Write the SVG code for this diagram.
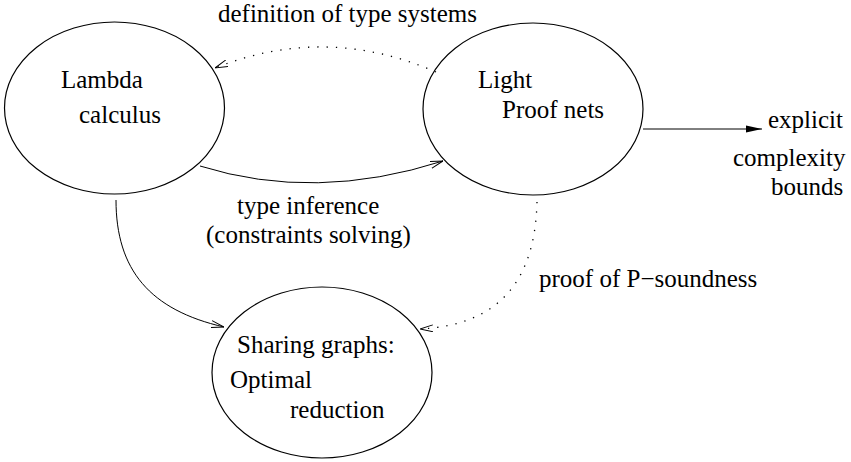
<svg xmlns="http://www.w3.org/2000/svg" width="851" height="462" viewBox="0 0 851 462" font-family="'Liberation Serif', 'Times New Roman', Times, 'DejaVu Serif', serif">
<style>
.node ellipse{fill:none;stroke:#000;stroke-width:1.2}
text{font-family:'Liberation Serif','Times New Roman',Times,'DejaVu Serif',serif;font-size:25px;fill:#000}
.solid{fill:none;stroke:#000;stroke-width:1}
.dot{fill:none;stroke:#000;stroke-width:1.3;stroke-dasharray:1.3,8;stroke-linecap:butt}
</style>
<defs>
<marker id="open" viewBox="0 0 13 8" refX="13" refY="4" markerWidth="13" markerHeight="8" markerUnits="userSpaceOnUse" orient="auto">
<path d="M0,0.5 L13,4 L0,7.5" fill="none" stroke="#000" stroke-width="1"/>
</marker>
<marker id="filled" viewBox="0 0 16 8" refX="16" refY="4" markerWidth="16" markerHeight="8" markerUnits="userSpaceOnUse" orient="auto">
<path d="M0,0.5 L16,4 L0,7.5 z" fill="#000"/>
</marker>
</defs>
<rect width="851" height="462" fill="#fff"/>
<g id="lambda" class="node">
<ellipse cx="114.5" cy="108" rx="110" ry="86"/>
<text x="61" y="88">Lambda</text>
<text x="79" y="123">calculus</text>
</g>
<g id="light" class="node">
<ellipse cx="533" cy="109" rx="110" ry="86"/>
<text x="478" y="88">Light</text>
<text x="502" y="118">Proof nets</text>
</g>
<g id="sharing" class="node">
<ellipse cx="322" cy="372.5" rx="110" ry="85.5"/>
<text x="237" y="353">Sharing graphs:</text>
<text x="230" y="388">Optimal</text>
<text x="290" y="418">reduction</text>
</g>
<g id="bounds">
<text x="768" y="128">explicit</text>
<text x="733" y="166">complexity</text>
<text x="771" y="195">bounds</text>
</g>
<g id="connectors">
<path class="dot" d="M436,72 Q326,24 215,68" marker-end="url(#open)"/>
<path class="solid" d="M200,166 Q315,202 443,161" marker-end="url(#open)"/>
<path class="solid" d="M116,200 C116,270 150,310 224,327" marker-end="url(#open)"/>
<path class="dot" d="M537,202 C535,280 500,325 420,329" marker-end="url(#open)"/>
<path class="solid" d="M643,129 L762,129" stroke-width="1.3" marker-end="url(#filled)"/>
<text x="218" y="22">definition of type systems</text>
<text x="237" y="214">type inference</text>
<text x="206" y="243">(constraints solving)</text>
<text x="539" y="287">proof of P−soundness</text>
</g>
</svg>
